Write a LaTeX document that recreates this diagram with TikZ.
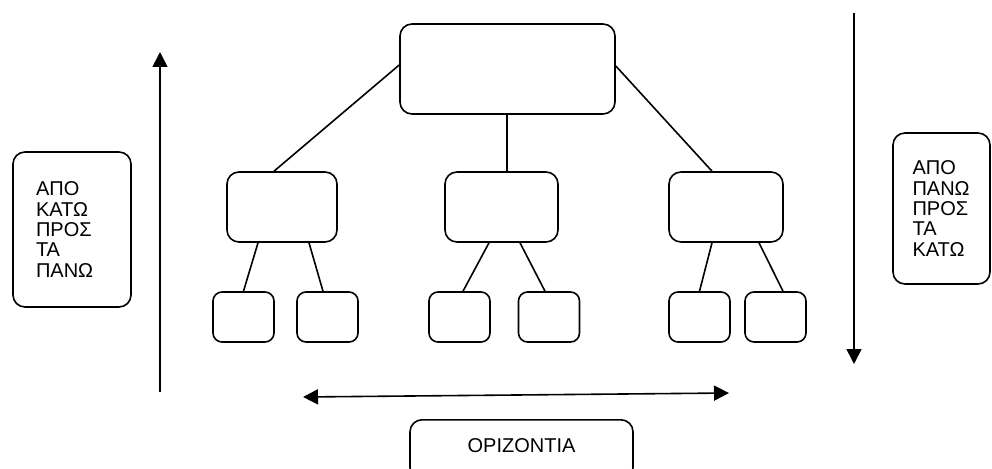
\documentclass[tikz,border=0pt]{standalone}
\usepackage{fontspec}
\setmainfont{Liberation Sans}
\usetikzlibrary{arrows.meta,calc}
\begin{document}
\begin{tikzpicture}[x=1pt,y=-1pt,
  line width=1.6pt,
  box/.style={draw, rounded corners=12pt, inner sep=0pt},
  leaf/.style={draw, rounded corners=9pt, inner sep=0pt, minimum width=61pt, minimum height=50pt},
  mid/.style={box, minimum height=70pt},
  caption/.style={box, font=\fontsize{20}{20.3}\selectfont, align=left},
  arr/.style={-{Triangle[length=15pt,width=15pt]}},
  darr/.style={{Triangle[length=15pt,width=15pt]}-{Triangle[length=15pt,width=15pt]}}]
\useasboundingbox (0,0) rectangle (992,468);
\clip (0,0) rectangle (992,468);

% tree: root, three branches, six leaves
\node[box, minimum width=215pt, minimum height=90pt] (root) at (507.5,69) {};
\node[mid, minimum width=110pt] (m1) at (282,207) {};
\node[mid, minimum width=113pt] (m2) at (501.5,207) {};
\node[mid, minimum width=114pt] (m3) at (726,207) {};
\node[leaf] (l1) at (243.5,317) {};
\node[leaf] (l2) at (327.5,317) {};
\node[leaf] (l3) at (459.5,317) {};
\node[leaf] (l4) at (549,317) {};
\node[leaf] (l5) at (699.5,317) {};
\node[leaf] (l6) at (775.5,317) {};

\draw ($(root.west)+(0,-4)$) -- ($(m1.north)+(-8,0)$);
\draw ($(root.south)+(-0.5,0)$) -- ($(m2.north)+(5.5,0)$);
\draw ($(root.east)+(0,-3)$) -- ($(m3.north)+(-14,0)$);

\draw ($(m1.south)+(-24,0)$) -- ($(l1.north)+(0,0)$);
\draw ($(m1.south)+(27,0)$) -- ($(l2.north)+(-4.5,0)$);
\draw ($(m2.south)+(-12.5,0)$) -- ($(l3.north)+(3.5,0)$);
\draw ($(m2.south)+(18.5,0)$) -- ($(l4.north)+(-4,0)$);
\draw ($(m3.south)+(-14,0)$) -- ($(l5.north)+(0,0)$);
\draw ($(m3.south)+(33,0)$) -- ($(l6.north)+(7.5,0)$);

% direction arrows
\coordinate (upfoot) at (160,392);
\coordinate (uptip) at (160,52);
\coordinate (downfoot) at (854,13);
\coordinate (downtip) at (854,364);
\coordinate (hleft) at (303,397);
\coordinate (hright) at (729,393);
\draw[arr] (upfoot) -- (uptip);
\draw[arr] (downfoot) -- (downtip);
\draw[darr] (hleft) -- (hright);

% captions
\node[caption, minimum width=118pt, minimum height=155pt, text width=72pt] (bottomup) at (72,229.5)
  {ΑΠΟ\\ΚΑΤΩ\\ΠΡΟΣ\\ΤΑ\\ΠΑΝΩ};
\node[caption, minimum width=97pt, minimum height=151pt, text width=58pt] (topdown) at (941.5,208.5)
  {ΑΠΟ\\ΠΑΝΩ\\ΠΡΟΣ\\ΤΑ\\ΚΑΤΩ};
\node[box, anchor=north, minimum width=223pt, text height=33pt, text depth=27pt,
  font=\fontsize{20}{20.3}\selectfont] (across) at (521.5,419) {ΟΡΙΖΟΝΤΙΑ};
\end{tikzpicture}
\end{document}
